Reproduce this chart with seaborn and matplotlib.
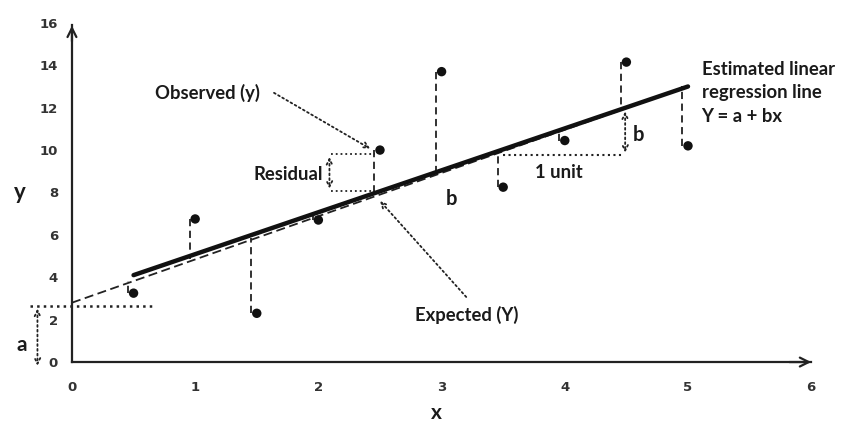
import numpy as np
import pandas as pd
import matplotlib
matplotlib.use("Agg")
import matplotlib.pyplot as plt
from matplotlib.ticker import MultipleLocator
import seaborn as sns

# observed points
x_obs = [0.5, 1.0, 1.5, 2.0, 2.5, 3.0, 3.5, 4.0, 4.5, 5.0]
y_obs = [3.25, 6.75, 2.3, 6.7, 10.0, 13.7, 8.25, 10.45, 14.15, 10.2]

# estimated regression line (solid) and expected line (dashed)
fit_x = [0.5, 5.0]
fit_y = [4.1, 13.0]
exp_x = [0.0, 5.0]
exp_y = [2.8, 13.0]

x_ticks = [0, 1, 2, 3, 4, 5, 6]
y_ticks = [0, 2, 4, 6, 8, 10, 12, 14, 16]

sns.set_style("white")
plt.rcParams["font.family"] = ["Lato", "DejaVu Sans"]

fig = plt.figure(figsize=(8.42, 4.25), dpi=100)
ax = fig.add_axes([0, 0, 1, 1])
ax.set_xlim(-0.584, 6.25)
ax.set_ylim(-2.97, 17.08)

obs = pd.DataFrame({"x": x_obs, "y": y_obs})
fit = pd.DataFrame({"x": fit_x, "y": fit_y})
exp = pd.DataFrame({"x": exp_x, "y": exp_y})

TXT = dict(fontsize=13.3, fontweight="bold", color="#1a1a1a")
DOT = dict(color="#222", lw=1.3, ls=":")

# residual drops from each point to the line
line_at = np.interp(x_obs, exp_x, exp_y)
for xo, yo, yl in zip(x_obs, y_obs, line_at):
    ax.plot([xo - 0.045, xo - 0.045], [yo, yl], color="#222", lw=1.3,
            ls=(0, (4, 2.5)), zorder=2)

sns.lineplot(data=exp, x="x", y="y", color="#222", lw=1.3,
             linestyle=(0, (5, 2.5)), ax=ax, zorder=3)
sns.lineplot(data=fit, x="x", y="y", color="#111", lw=3.2, ax=ax, zorder=4)
sns.scatterplot(data=obs, x="x", y="y", color="#111", s=46, edgecolor="none",
                ax=ax, zorder=5)

# intercept marker "a"
ax.plot([-0.34, 0.67], [2.65, 2.65], color="#222", lw=1.8, ls=":")
ax.annotate("", xy=(-0.28, -0.3), xytext=(-0.28, 2.65),
            arrowprops=dict(arrowstyle="<->", **DOT))
ax.text(-0.41, 0.8, "a", ha="center", va="center", **{**TXT, "fontsize": 15})

# residual box at x = 2.5
ax.plot([2.1, 2.46], [9.8, 9.8], **DOT)
ax.plot([2.1, 2.46], [8.05, 8.05], **DOT)
ax.annotate("", xy=(2.09, 8.05), xytext=(2.09, 9.8),
            arrowprops=dict(arrowstyle="<->", **DOT))
ax.text(2.04, 8.85, "Residual", ha="right", va="center", **TXT)

# slope triangle
ax.plot([3.5, 4.48], [9.75, 9.75], color="#222", lw=1.5, ls=":")
ax.annotate("", xy=(4.49, 9.75), xytext=(4.49, 11.95),
            arrowprops=dict(arrowstyle="<->", **DOT))
ax.text(4.6, 10.7, "b", ha="center", va="center", **{**TXT, "fontsize": 14.5})
ax.text(3.95, 8.95, "1 unit", ha="center", va="center", **TXT)
ax.text(3.08, 7.7, "b", ha="center", va="center", **{**TXT, "fontsize": 14.5})

# callouts
ax.text(1.1, 12.7, "Observed (y)", ha="center", va="center", **TXT)
ax.annotate("", xy=(2.44, 10.0), xytext=(1.64, 12.7),
            arrowprops=dict(arrowstyle="->", shrinkA=0, shrinkB=2, **DOT))
ax.text(3.2, 2.2, "Expected (Y)", ha="center", va="center", **TXT)
ax.annotate("", xy=(2.5, 7.6), xytext=(3.2, 3.07),
            arrowprops=dict(arrowstyle="->", shrinkA=0, shrinkB=0, **DOT))
ax.text(5.11, 12.7, "Estimated linear\nregression line\nY = a + bx",
        ha="left", va="center", linespacing=1.45, **TXT)

# axes with arrows
for side in ["top", "right"]:
    ax.spines[side].set_visible(False)
ax.spines["left"].set_position(("data", 0))
ax.spines["bottom"].set_position(("data", 0))
ax.spines["left"].set_bounds(0, 15.9)
ax.spines["bottom"].set_bounds(0, 6)
for side in ["left", "bottom"]:
    ax.spines[side].set_linewidth(1.6)
    ax.spines[side].set_color("#222")
ax.annotate("", xy=(0, 16.0), xytext=(0, 15.0),
            arrowprops=dict(arrowstyle="->", color="#222", lw=1.6,
                            mutation_scale=16))
ax.annotate("", xy=(6.0, 0), xytext=(5.8, 0),
            arrowprops=dict(arrowstyle="->", color="#222", lw=1.6,
                            mutation_scale=16, shrinkB=0))

ax.set_xticks(x_ticks)
ax.set_xticklabels([str(t) for t in x_ticks])
ax.xaxis.set_minor_locator(MultipleLocator(0.5))
ax.set_yticks(y_ticks)
ax.set_yticklabels([str(t) for t in y_ticks])
ax.tick_params(axis="x", which="major", direction="inout", length=11,
               width=1.6, color="#222", pad=8)
ax.tick_params(axis="x", which="minor", direction="inout", length=7,
               width=1.3, color="#222")
ax.tick_params(axis="y", length=0, pad=10)
for lab in ax.get_xticklabels() + ax.get_yticklabels():
    lab.set_fontfamily("DejaVu Sans")
    lab.set_fontweight("bold")
    lab.set_fontsize(9.5)
    lab.set_color("#333")

ax.set_xlabel("")
ax.set_ylabel("")
ax.text(-0.42, 8.0, "y", ha="center", va="center", **{**TXT, "fontsize": 16})
ax.text(2.96, -2.42, "x", ha="center", va="center", **{**TXT, "fontsize": 15})

fig.savefig("out.png", dpi=100)
